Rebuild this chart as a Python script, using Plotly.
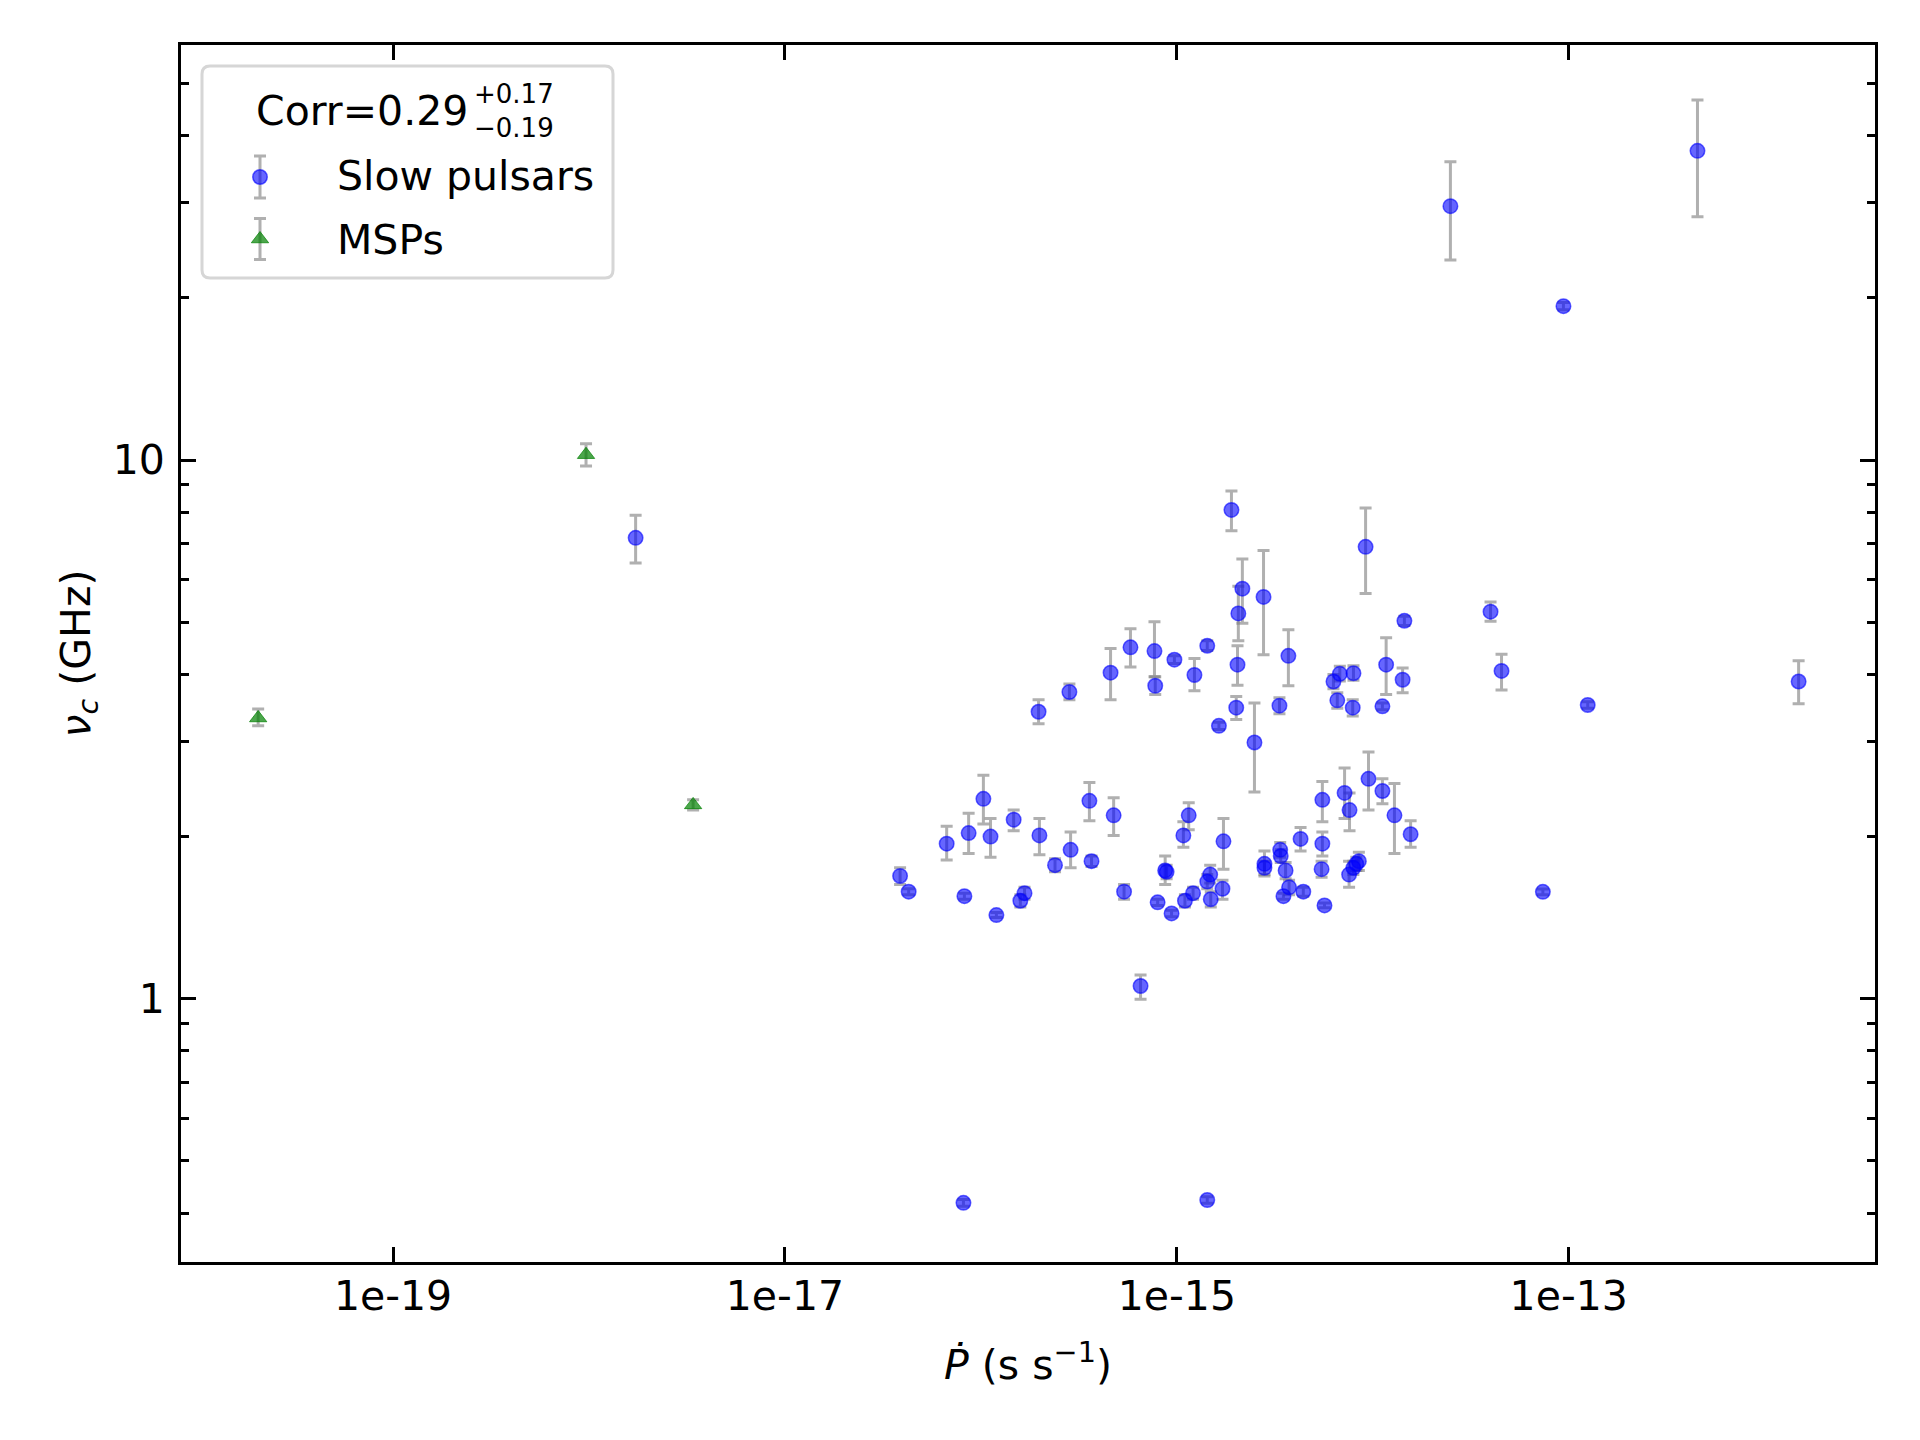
import plotly.graph_objects as go

# ---------------- data ----------------
slow_pdot = [
    1.90e-15, 9.19e-15, 2.16e-15, 2.77e-15, 2.06e-15, 1.45e-14, 1.97e-16, 2.83e-16, 4.59e-16, 5.80e-16,
    7.69e-16, 7.76e-16, 9.72e-16, 1.23e-15, 1.43e-15, 2.04e-15, 3.71e-15, 6.30e-15, 6.79e-15, 7.97e-15,
    1.17e-14, 1.42e-14, 6.59e-15, 7.90e-15, 1.12e-14, 2.01e-15, 3.34e-15, 1.64e-15, 2.49e-15,
    2.49e-14, 4.54e-13, 9.40e-14, 3.99e-14, 4.54e-14, 1.25e-13, 1.49e-12, 1.73e-18, 8.15e-17, 1.43e-15, 7.38e-14,
    3.87e-17, 4.28e-17, 6.69e-17, 8.24e-17, 8.66e-17, 1.03e-16, 1.12e-16, 1.20e-16, 1.47e-16, 1.59e-16,
    1.67e-16, 1.99e-16, 2.39e-16, 2.87e-16, 3.58e-16, 3.67e-16, 4.76e-16, 5.38e-16, 6.53e-16, 7.98e-16,
    8.72e-16, 8.87e-16, 9.40e-16, 1.08e-15, 1.15e-15, 1.10e-15, 1.21e-15, 1.43e-15, 1.48e-15, 1.49e-15,
    1.71e-15, 1.73e-15, 2.80e-15, 2.80e-15, 3.37e-15, 3.39e-15, 3.59e-15, 3.74e-15, 3.50e-15, 4.28e-15,
    4.42e-15, 5.53e-15, 5.53e-15, 5.48e-15, 5.67e-15, 7.18e-15, 7.61e-15, 7.57e-15, 7.96e-15, 8.24e-15,
    8.49e-15, 9.51e-15, 1.12e-14, 1.29e-14, 1.56e-14,
]
slow_nu = [
    8.08, 6.90, 5.77, 5.57, 5.19, 5.03, 3.41, 3.71, 4.03, 4.49,
    4.42, 3.81, 4.26, 3.99, 4.52, 4.17, 4.33, 3.88, 4.01, 4.02,
    4.17, 3.91, 3.58, 3.47, 3.49, 3.47, 3.50, 3.21, 2.99,
    29.6, 37.5, 19.3, 5.23, 4.06, 3.51, 3.88, 7.17, 0.418, 0.423, 1.579,
    1.69, 1.58, 1.94, 1.55, 2.03, 2.35, 2.00, 1.43, 2.15, 1.52,
    1.57, 2.01, 1.77, 1.89, 2.33, 1.80, 2.19, 1.58, 1.056, 1.51,
    1.73, 1.72, 1.44, 2.01, 2.19, 1.52, 1.57, 1.65, 1.70, 1.53,
    1.60, 1.96, 1.78, 1.75, 1.89, 1.84, 1.73, 1.61, 1.55, 1.98,
    1.58, 2.34, 1.94, 1.74, 1.49, 2.41, 2.24, 1.70, 1.75, 1.78,
    1.80, 2.56, 2.43, 2.19, 2.02,
]
slow_err_plus = [
    0.68, 1.25, 0.78, 1.22, 0.64, 0.10, 0.18, 0.13, 0.44, 0.37,
    0.59, 0.15, 0.07, 0.29, 0.10, 0.35, 0.51, 0.12, 0.13, 0.13,
    0.51, 0.20, 0.12, 0.12, 0.05, 0.17, 0.12, 0.05, 0.55,
    6.2, 9.1, 0.3, 0.22, 0.30, 0.05, 0.36, 0.73, 0.006, 0.006, 0.02,
    0.06, 0.02, 0.15, 0.02, 0.18, 0.25, 0.16, 0.015, 0.09, 0.04,
    0.04, 0.15, 0.05, 0.15, 0.19, 0.04, 0.17, 0.05, 0.051, 0.02,
    0.11, 0.05, 0.02, 0.12, 0.12, 0.04, 0.04, 0.05, 0.07, 0.05,
    0.06, 0.20, 0.10, 0.05, 0.06, 0.05, 0.06, 0.05, 0.02, 0.10,
    0.03, 0.19, 0.10, 0.06, 0.015, 0.27, 0.17, 0.10, 0.05, 0.05,
    0.07, 0.31, 0.13, 0.32, 0.12,
]
slow_err_minus = [
    0.69, 1.25, 0.79, 1.22, 0.57, 0.10, 0.17, 0.12, 0.44, 0.36,
    0.46, 0.14, 0.07, 0.26, 0.09, 0.35, 0.52, 0.12, 0.12, 0.12,
    0.50, 0.21, 0.12, 0.12, 0.05, 0.17, 0.12, 0.05, 0.57,
    6.1, 9.2, 0.3, 0.21, 0.32, 0.05, 0.35, 0.73, 0.006, 0.006, 0.02,
    0.06, 0.02, 0.13, 0.02, 0.17, 0.24, 0.17, 0.015, 0.10, 0.04,
    0.04, 0.16, 0.05, 0.14, 0.19, 0.04, 0.18, 0.05, 0.058, 0.02,
    0.10, 0.05, 0.02, 0.10, 0.13, 0.04, 0.04, 0.05, 0.06, 0.05,
    0.07, 0.22, 0.09, 0.05, 0.06, 0.05, 0.06, 0.05, 0.02, 0.10,
    0.03, 0.21, 0.10, 0.06, 0.015, 0.25, 0.19, 0.09, 0.05, 0.05,
    0.07, 0.32, 0.13, 0.33, 0.11,
]

msp_pdot = [2.05e-20, 9.66e-19, 3.40e-18]
msp_nu = [3.32, 10.23, 2.29]
msp_err_plus = [0.13, 0.49, 0.05]
msp_err_minus = [0.11, 0.48, 0.05]

x_tickvals = [1e-19, 1e-17, 1e-15, 1e-13]
x_ticktext = ["1e-19", "1e-17", "1e-15", "1e-13"]
y_tickvals = [1, 10]
y_ticktext = ["1", "10"]
y_minor = [0.4, 0.5, 0.6, 0.7, 0.8, 0.9, 2, 3, 4, 5, 6, 7, 8, 9, 20, 30, 40, 50]

legend_title = "Corr=0.29"
corr_updown = "+0.17<br>\u22120.19"
slow_label = "Slow pulsars"
msp_label = "MSPs"

# ---------------- styling ----------------
FONT = "DejaVu Sans"
FS = 41
ERR_COLOR = "rgba(128,128,128,0.62)"
BLUE_FILL = "rgba(0,0,255,0.6)"
GREEN_FILL = "rgba(0,128,0,0.7)"

PL, PR, PT, PB = 181, 1875, 45, 1262
W, H = PR - PL, PB - PT


def px(x):
    return (x - PL) / W


def py(y):
    return (PB - y) / H


fig = go.Figure()

fig.add_trace(go.Scatter(
    x=slow_pdot, y=slow_nu, mode="markers", name=slow_label, showlegend=False,
    marker=dict(symbol="circle", size=14.5, color=BLUE_FILL,
                line=dict(color="rgba(0,0,255,0.6)", width=1.5)),
    error_y=dict(type="data", symmetric=False, array=slow_err_plus,
                 arrayminus=slow_err_minus, color=ERR_COLOR, thickness=3, width=6),
))
fig.add_trace(go.Scatter(
    x=msp_pdot, y=msp_nu, mode="markers", name=msp_label, showlegend=False,
    marker=dict(symbol="triangle-up", size=15, color=GREEN_FILL,
                line=dict(color="rgba(0,128,0,0.7)", width=1)),
    error_y=dict(type="data", symmetric=False, array=msp_err_plus,
                 arrayminus=msp_err_minus, color=ERR_COLOR, thickness=3, width=6),
))

# ---------------- custom legend ----------------
bx0, by0, bx1, by1, r = 202, 66, 613, 278, 8
path = (f"M {px(bx0 + r)},{py(by0)} L {px(bx1 - r)},{py(by0)} "
        f"Q {px(bx1)},{py(by0)} {px(bx1)},{py(by0 + r)} "
        f"L {px(bx1)},{py(by1 - r)} Q {px(bx1)},{py(by1)} {px(bx1 - r)},{py(by1)} "
        f"L {px(bx0 + r)},{py(by1)} Q {px(bx0)},{py(by1)} {px(bx0)},{py(by1 - r)} "
        f"L {px(bx0)},{py(by0 + r)} Q {px(bx0)},{py(by0)} {px(bx0 + r)},{py(by0)} Z")
fig.add_shape(type="path", path=path, xref="paper", yref="paper",
              line=dict(color="rgb(214,214,214)", width=3),
              fillcolor="white", layer="below")

fig.add_trace(go.Scatter(
    x=[px(260)], y=[py(177)], xaxis="x2", yaxis="y2", mode="markers", showlegend=False,
    hoverinfo="skip",
    marker=dict(symbol="circle", size=14.5, color=BLUE_FILL,
                line=dict(color="rgba(0,0,255,0.6)", width=1.5)),
    error_y=dict(type="constant", value=21 / H, color=ERR_COLOR, thickness=3, width=6),
))
fig.add_trace(go.Scatter(
    x=[px(260)], y=[py(239)], xaxis="x2", yaxis="y2", mode="markers", showlegend=False,
    hoverinfo="skip",
    marker=dict(symbol="triangle-up", size=15, color=GREEN_FILL,
                line=dict(color="rgba(0,128,0,0.7)", width=1)),
    error_y=dict(type="constant", value=20.5 / H, color=ERR_COLOR, thickness=3, width=6),
))

annos = [
    dict(text=legend_title, x=px(470), y=py(111), xanchor="right", yanchor="middle",
         font=dict(family=FONT, size=FS, color="black")),
    dict(text=corr_updown, x=px(472), y=py(111), xanchor="left", yanchor="middle",
         align="left", font=dict(family=FONT, size=26, color="black")),
    dict(text=slow_label, x=px(335), y=py(176), xanchor="left", yanchor="middle",
         font=dict(family=FONT, size=FS, color="black")),
    dict(text=msp_label, x=px(335), y=py(240), xanchor="left", yanchor="middle",
         font=dict(family=FONT, size=FS, color="black")),
]
for a in annos:
    fig.add_annotation(xref="paper", yref="paper", showarrow=False, **a)

axis_common = dict(
    showline=True, linecolor="black", linewidth=3, mirror="allticks",
    ticks="inside", ticklen=15, tickwidth=3, tickcolor="black",
    showgrid=False, zeroline=False,
    tickfont=dict(family=FONT, size=FS, color="black"),
)

fig.update_layout(
    width=1920, height=1440,
    margin=dict(l=PL, r=1920 - PR, t=PT, b=1440 - PB),
    paper_bgcolor="white", plot_bgcolor="white",
    xaxis=dict(
        type="log", range=[-20.082, -11.437],
        tickvals=x_tickvals, ticktext=x_ticktext, ticklabelstandoff=-4,
        title=dict(text="<i>\u1E56</i> (s s<sup>\u22121</sup>)",
                   font=dict(family=FONT, size=FS, color="black"), standoff=32),
        **axis_common,
    ),
    yaxis=dict(
        type="log", range=[-0.4887, 1.7704],
        tickvals=y_tickvals, ticktext=y_ticktext, ticklabelstandoff=5,
        minor=dict(tickvals=y_minor, ticks="inside", ticklen=8, tickwidth=2.5,
                   tickcolor="black", showgrid=False),
        title=dict(text="<i>\u03BD</i><sub><i>c</i></sub> (GHz)",
                   font=dict(family=FONT, size=FS, color="black"), standoff=10),
        **axis_common,
    ),
    xaxis2=dict(overlaying="x", range=[0, 1], visible=False),
    yaxis2=dict(overlaying="y", range=[0, 1], visible=False),
)

fig.write_html("out.html")
